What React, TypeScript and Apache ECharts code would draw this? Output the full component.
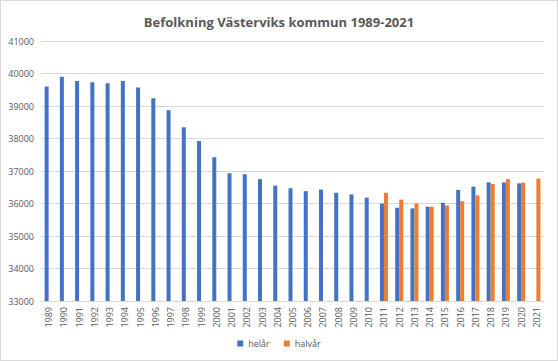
import React, { useEffect, useRef } from "react";
import * as echarts from "echarts";

const years: string[] = [
  "1989","1990","1991","1992","1993","1994","1995","1996","1997","1998","1999",
  "2000","2001","2002","2003","2004","2005","2006","2007","2008","2009","2010",
  "2011","2012","2013","2014","2015","2016","2017","2018","2019","2020","2021",
];

const helar: (number | null)[] = [
  39600, 39900, 39770, 39730, 39700, 39770, 39570, 39240, 38870, 38350, 37920,
  37420, 36930, 36900, 36750, 36550, 36470, 36380, 36430, 36330, 36280, 36180,
  36000, 35870, 35850, 35900, 36020, 36420, 36520, 36650, 36650, 36620, null,
];

const halvar: (number | null)[] = [
  null, null, null, null, null, null, null, null, null, null, null,
  null, null, null, null, null, null, null, null, null, null, null,
  36330, 36120, 36000, 35900, 35940, 36070, 36250, 36600, 36750, 36640, 36770,
];

const textColor = "#595959";
const font = "'Open Sans', 'Noto Sans', sans-serif";

export default function App() {
  const ref = useRef<HTMLDivElement>(null);
  useEffect(() => {
    document.body.style.margin = "0";
    if (!ref.current) return;
    const chart = echarts.init(ref.current, undefined, { renderer: "svg" });
    chart.setOption({
      animation: false,
      backgroundColor: "#ffffff",
      title: {
        text: "Befolkning Västerviks kommun 1989-2021",
        left: "center",
        top: 9,
        textStyle: { color: textColor, fontSize: 13, fontWeight: "bold", fontFamily: font },
      },
      legend: {
        bottom: 7,
        left: "center",
        itemWidth: 6,
        itemHeight: 6,
        itemGap: 14,
        icon: "rect",
        textStyle: { color: textColor, fontSize: 9, fontFamily: font },
        data: ["helår", "halvår"],
      },
      grid: { left: 40, right: 13, top: 40, bottom: 59 },
      xAxis: {
        type: "category",
        data: years,
        axisLine: { lineStyle: { color: "#d9d9d9" } },
        axisTick: { show: false },
        axisLabel: {
          rotate: 90,
          interval: 0,
          color: textColor,
          fontSize: 9,
          fontFamily: font,
          margin: 6,
        },
      },
      yAxis: {
        type: "value",
        min: 33000,
        max: 41000,
        interval: 1000,
        axisLine: { show: false },
        axisTick: { show: false },
        splitLine: { lineStyle: { color: "#d9d9d9" } },
        axisLabel: {
          color: textColor,
          fontSize: 9,
          fontFamily: font,
          margin: 7,
          formatter: (v: number) => String(v),
        },
      },
      series: [
        {
          name: "helår",
          type: "bar",
          data: helar,
          itemStyle: { color: "#4472C4" },
          barWidth: 4,
          barGap: "0%",
        },
        {
          name: "halvår",
          type: "bar",
          data: halvar,
          itemStyle: { color: "#ED7D31" },
          barWidth: 4,
          barGap: "0%",
        },
      ],
    });
    return () => chart.dispose();
  }, []);
  return (
    <div
      style={{
        width: 558,
        height: 361,
        boxSizing: "border-box",
        border: "1px solid #d9d9d9",
        background: "#fff",
      }}
    >
      <div ref={ref} style={{ width: 556, height: 359 }} />
    </div>
  );
}
